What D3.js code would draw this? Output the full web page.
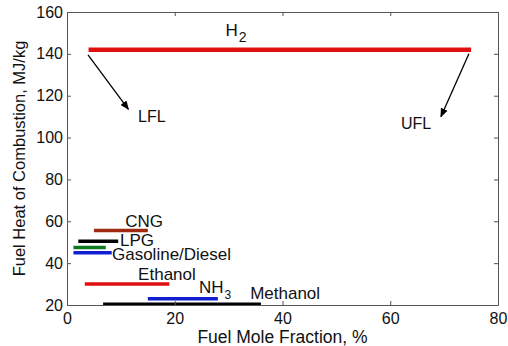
<!DOCTYPE html>
<html><head><meta charset="utf-8">
<script src="https://cdn.jsdelivr.net/npm/d3@7"></script>
<style>body{margin:0;background:#fff}svg{display:block;font-family:"Liberation Sans",Arial,sans-serif}</style>
</head><body><svg id="c" width="508" height="346"></svg>
<script>
const fuels = ["H2","CNG","LPG","Gasoline","Diesel","Ethanol","NH3","Methanol"];
const lfl   = [4, 5, 2.1, 1.2, 1.2, 3.3, 15, 6.7];
const ufl   = [75, 15, 9.5, 7.2, 8.3, 19, 28, 36];
const heat  = [142, 55.6, 50.5, 47.5, 45, 30, 23, 20.3];
const colors = ["#e01010","#a02a10","#000000","#107a20","#1020d0","#e01010","#1020d0","#000000"];
const xTicks = [0,20,40,60,80];
const yTicks = [20,40,60,80,100,120,140,160];

const svg = d3.select("#c");
const m = {l:67, r:10, t:12, b:41};
const W = 508, H = 346;
const x = d3.scaleLinear().domain([0,80]).range([m.l, W-m.r]);
const y = d3.scaleLinear().domain([20,160]).range([H-m.b, m.t]);

// bars
svg.append("g").selectAll("line").data(fuels).join("line")
  .attr("x1",(d,i)=>x(lfl[i])).attr("x2",(d,i)=>x(ufl[i]))
  .attr("y1",(d,i)=>y(heat[i])).attr("y2",(d,i)=>y(heat[i]))
  .attr("stroke",(d,i)=>colors[i]).attr("stroke-width",(d,i)=>i===0?4.5:3.5);

// axes
const fs = "16px";
const ax = svg.append("g").attr("transform",`translate(0,${H-m.b})`).call(d3.axisBottom(x).tickValues(xTicks).tickSizeInner(-4).tickSizeOuter(0).tickPadding(8));
const ay = svg.append("g").attr("transform",`translate(${m.l},0)`).call(d3.axisLeft(y).tickValues(yTicks).tickSizeInner(-4).tickSizeOuter(0).tickPadding(4));
const axT = svg.append("g").attr("transform",`translate(0,${m.t})`).call(d3.axisTop(x).tickValues(xTicks).tickSizeInner(-4).tickSizeOuter(0).tickFormat(""));
const ayR = svg.append("g").attr("transform",`translate(${W-m.r},0)`).call(d3.axisRight(y).tickValues(yTicks).tickSizeInner(-4).tickSizeOuter(0).tickFormat(""));
[ax,ay,axT,ayR].forEach(g=>{g.selectAll("path").attr("stroke","#555");g.selectAll("line").attr("stroke","#555");g.selectAll("text").attr("font-size",fs).attr("fill","#111").attr("font-family","Liberation Sans, Arial, sans-serif");});

// axis labels
svg.append("text").attr("x",(m.l+W-m.r)/2).attr("y",343).attr("text-anchor","middle").attr("font-size","17.5px").attr("fill","#111").text("Fuel Mole Fraction, %");
svg.append("text").attr("transform",`translate(25,${(m.t+H-m.b)/2}) rotate(-90)`).attr("text-anchor","middle").attr("font-size","16.5px").attr("fill","#111").text("Fuel Heat of Combustion, MJ/kg");

// labels
const lab = (tx,ty,main,sub,size,subSize)=>{
  const t = svg.append("text").attr("x",tx).attr("y",ty).attr("font-size",size||"17px").attr("fill","#111");
  t.append("tspan").text(main);
  if(sub) t.append("tspan").attr("dy",6).attr("font-size",subSize||"12px").attr("dx",1).text(sub);
};
lab(x(29.4), y(148.5), "H", "2", "17px", "14px");
lab(x(10.8), y(57.4), "CNG");
lab(x(9.84), y(48.2), "LPG");
lab(x(8.35), y(41.5), "Gasoline/Diesel");
lab(x(13.2), y(31.95), "Ethanol");
lab(x(24.5), y(25.7), "NH", "3");
lab(x(34), y(22.9), "Methanol");
lab(x(13.2), y(107.4), "LFL", null, "16px");
lab(x(62), y(104.1), "UFL", null, "16px");

// arrows
svg.append("defs").append("marker").attr("id","ah").attr("viewBox","0 0 10 10").attr("refX",9).attr("refY",5)
  .attr("markerWidth",7).attr("markerHeight",7).attr("orient","auto")
  .append("path").attr("d","M0,1 L10,5 L0,9 Z").attr("fill","#000");
const arrow=(x1,y1,x2,y2)=>svg.append("line").attr("x1",x(x1)).attr("y1",y(y1)).attr("x2",x(x2)).attr("y2",y(y2))
  .attr("stroke","#000").attr("stroke-width",1.3).attr("marker-end","url(#ah)");
arrow(3.9,139.5,11.4,113.5);
arrow(74.6,140,69.4,110);
</script></body></html>
